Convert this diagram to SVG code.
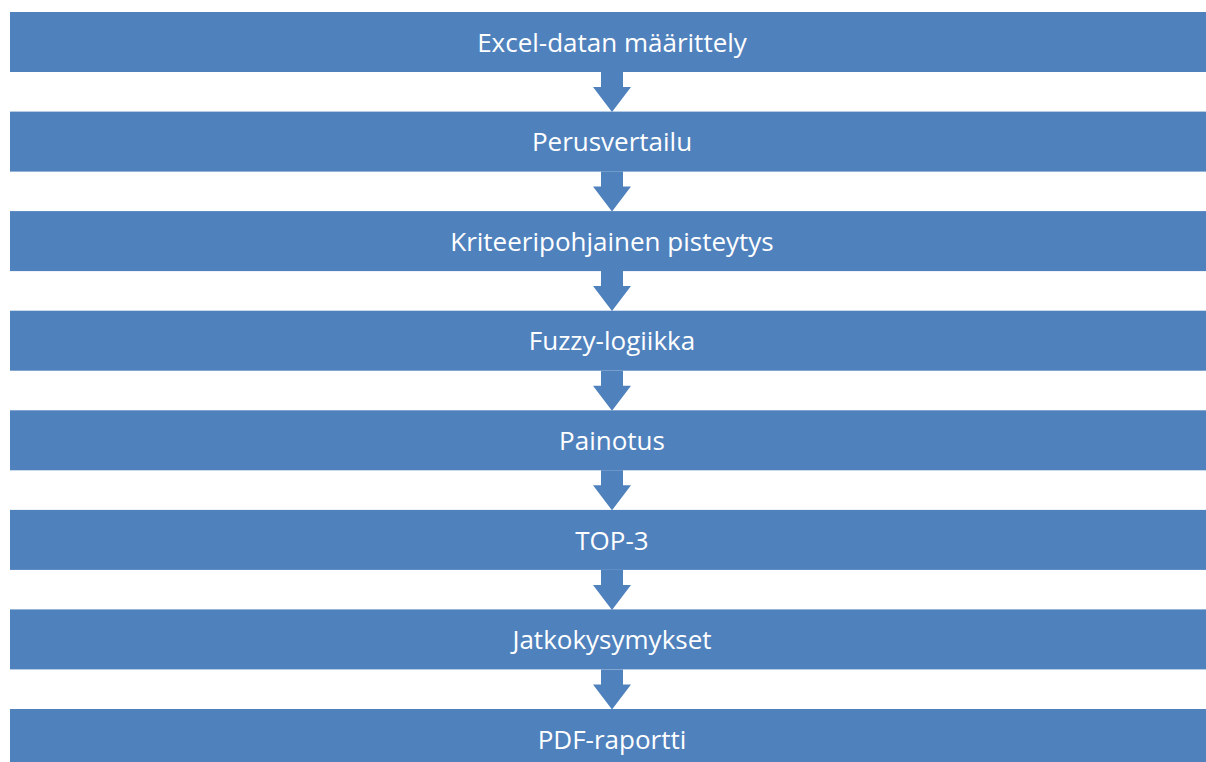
<svg xmlns="http://www.w3.org/2000/svg" width="1206" height="762" viewBox="0 0 1206 762">
<defs>
<style>
.box{fill:#4F81BD;}
.lbl{fill:#FFFFFF;font-family:"Open Sans","Liberation Sans",sans-serif;font-size:26px;text-anchor:middle;}
.arr{fill:#4F81BD;}
</style>
<path id="ar" d="M-11,0 L11,0 L11,15 L19,15 L0,40 L-19,15 L-11,15 Z"/>
</defs>
<rect width="1206" height="762" fill="#FFFFFF"/>
<g id="connectors">
<use href="#ar" class="arr" x="612" y="72"/>
<use href="#ar" class="arr" x="612" y="171.6"/>
<use href="#ar" class="arr" x="612" y="271.1"/>
<use href="#ar" class="arr" x="612" y="370.7"/>
<use href="#ar" class="arr" x="612" y="470.3"/>
<use href="#ar" class="arr" x="612" y="569.9"/>
<use href="#ar" class="arr" x="612" y="669.4"/>
</g>
<g id="n1"><rect class="box" x="10" y="12" width="1206" height="60"/><text class="lbl" x="612" y="51.6">Excel-datan määrittely</text></g>
<g id="n2"><rect class="box" x="10" y="111.6" width="1206" height="60"/><text class="lbl" x="612" y="151.2">Perusvertailu</text></g>
<g id="n3"><rect class="box" x="10" y="211.1" width="1206" height="60"/><text class="lbl" x="612" y="250.7">Kriteeripohjainen pisteytys</text></g>
<g id="n4"><rect class="box" x="10" y="310.7" width="1206" height="60"/><text class="lbl" x="612" y="350.3">Fuzzy-logiikka</text></g>
<g id="n5"><rect class="box" x="10" y="410.3" width="1206" height="60"/><text class="lbl" x="612" y="449.9">Painotus</text></g>
<g id="n6"><rect class="box" x="10" y="509.9" width="1206" height="60"/><text class="lbl" x="612" y="549.5">TOP-3</text></g>
<g id="n7"><rect class="box" x="10" y="609.4" width="1206" height="60"/><text class="lbl" x="612" y="649">Jatkokysymykset</text></g>
<g id="n8"><rect class="box" x="10" y="709" width="1206" height="60"/><text class="lbl" x="612" y="748.6">PDF-raportti</text></g>
</svg>
